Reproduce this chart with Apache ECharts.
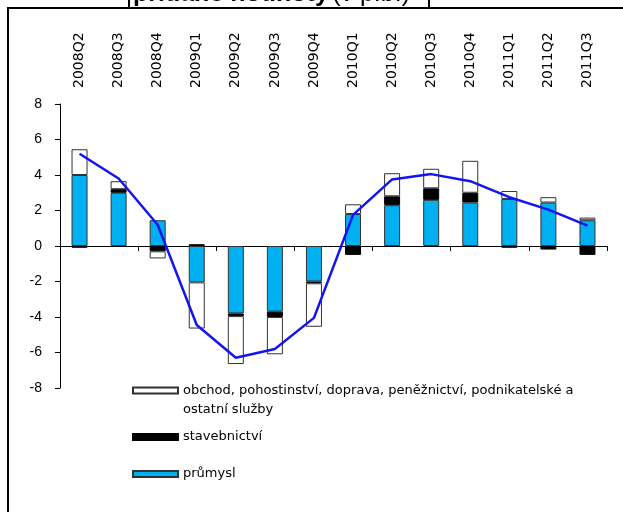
<!DOCTYPE html>
<html>
<head>
<meta charset="utf-8">
<script src="https://cdn.jsdelivr.net/npm/echarts@6/dist/echarts.min.js"></script>
<style>
  html, body { margin: 0; padding: 0; background: #fff; }
  #main { width: 623px; height: 512px; }
</style>
</head>
<body>
<div id="main"></div>
<script>
// čtvrtletí
var categories = ['2008Q2', '2008Q3', '2008Q4', '2009Q1', '2009Q2', '2009Q3', '2009Q4',
                  '2010Q1', '2010Q2', '2010Q3', '2010Q4', '2011Q1', '2011Q2', '2011Q3'];
// příspěvky odvětví (p.b.)
var prumysl      = [4.0, 3.0, 1.45, -2.05, -3.8, -3.7, -2.0, 1.8, 2.3, 2.6, 2.45, 2.65, 2.45, 1.45];
var stavebnictvi = [-0.1, 0.2, -0.3, 0.1, -0.15, -0.3, -0.1, -0.5, 0.5, 0.65, 0.55, -0.1, -0.2, -0.5];
var obchod       = [1.45, 0.45, -0.4, -2.6, -2.7, -2.1, -2.45, 0.55, 1.3, 1.1, 1.8, 0.45, 0.3, 0.15];
// celkem
var celkem       = [5.2, 3.8, 1.2, -4.45, -6.3, -5.8, -4.05, 1.75, 3.75, 4.05, 3.65, 2.75, 2.05, 1.15];
var yTicks = { min: -8, max: 8, interval: 2 };

var nameObchod = 'obchod, pohostinství, doprava, peněžnictví, podnikatelské a ostatní služby';
var nameStav = 'stavebnictví';
var namePrum = 'průmysl';

var chart = echarts.init(document.getElementById('main'));
var font = 'Arial, "Liberation Sans", sans-serif';
var wideFont = '"DejaVu Sans", sans-serif';
var legendText = { fontFamily: wideFont, fontSize: 13, color: '#000' };

chart.setOption({
    animation: false,
    backgroundColor: '#fff',
    grid: { left: 60, right: 16, top: 104, bottom: 124 },
    graphic: [
        {
            type: 'rect', z: 0, silent: true,
            shape: { x: 8, y: 8, width: 700, height: 700 },
            style: { fill: 'none', stroke: '#000', lineWidth: 2 }
        },
        {
            type: 'rect', z: 1, silent: true,
            shape: { x: 129, y: -20, width: 300, height: 28 },
            style: { fill: '#fff', stroke: '#000', lineWidth: 2 }
        },
        {
            type: 'text', z: 2, silent: true, x: 133, y: 7,
            style: {
                text: '{b|přidané hodnoty} {n|(v p.b.)}',
                verticalAlign: 'bottom',
                rich: {
                    b: { fontFamily: font, fontSize: 25, fontWeight: 'bold', fill: '#000' },
                    n: { fontFamily: font, fontSize: 25, fill: '#000' }
                }
            }
        }
    ],
    legend: [
        {
            // prázdný první řádek: ikona pak sedí u prvního řádku textu
            data: [nameObchod], left: 132, top: 362, padding: 0,
            itemWidth: 45, itemHeight: 6, icon: 'rect', selectedMode: false,
            formatter: function () {
                return '\nobchod, pohostinství, doprava, peněžnictví, podnikatelské a\nostatní služby';
            },
            textStyle: Object.assign({ lineHeight: 19 }, legendText)
        },
        {
            data: [nameStav], left: 132, top: 429, padding: 0, icon: 'rect',
            itemWidth: 45, itemHeight: 6, selectedMode: false,
            textStyle: Object.assign({ lineHeight: 16 }, legendText)
        },
        {
            data: [namePrum], left: 132, top: 466, padding: 0, icon: 'rect',
            itemWidth: 45, itemHeight: 6, selectedMode: false,
            textStyle: Object.assign({ lineHeight: 16 }, legendText)
        }
    ],
    xAxis: [
        {
            type: 'category', data: categories, position: 'bottom',
            axisLine: { onZero: true, lineStyle: { color: '#000', width: 1 } },
            axisTick: { show: true, length: 5, inside: false, lineStyle: { color: '#000' } },
            axisLabel: { show: false },
            splitLine: { show: false }
        },
        {
            type: 'category', data: categories, position: 'top',
            axisLine: { show: false }, axisTick: { show: false },
            axisLabel: { rotate: -90, margin: 16, fontFamily: wideFont, fontSize: 14, color: '#000' },
            splitLine: { show: false }
        }
    ],
    yAxis: {
        type: 'value', min: yTicks.min, max: yTicks.max, interval: yTicks.interval,
        axisLine: { show: true, lineStyle: { color: '#000', width: 1 } },
        axisTick: { show: true, length: 5, lineStyle: { color: '#000' } },
        axisLabel: { margin: 18, fontFamily: font, fontSize: 14, color: '#000' },
        splitLine: { show: false }
    },
    series: [
        {
            name: namePrum, type: 'bar', stack: 'a', data: prumysl, barWidth: 16,
            itemStyle: { color: '#00b0f0', borderColor: '#333', borderWidth: 1 }
        },
        {
            name: nameStav, type: 'bar', stack: 'a', data: stavebnictvi, barWidth: 16,
            itemStyle: { color: '#000', borderColor: '#000', borderWidth: 1 }
        },
        {
            name: nameObchod, type: 'bar', stack: 'a', data: obchod, barWidth: 16,
            itemStyle: { color: '#fff', borderColor: '#333', borderWidth: 1 }
        },
        {
            name: 'celkem', type: 'line', data: celkem, symbol: 'none', z: 5,
            lineStyle: { color: '#1414f0', width: 2.5 }
        }
    ]
});
</script>
</body>
</html>
